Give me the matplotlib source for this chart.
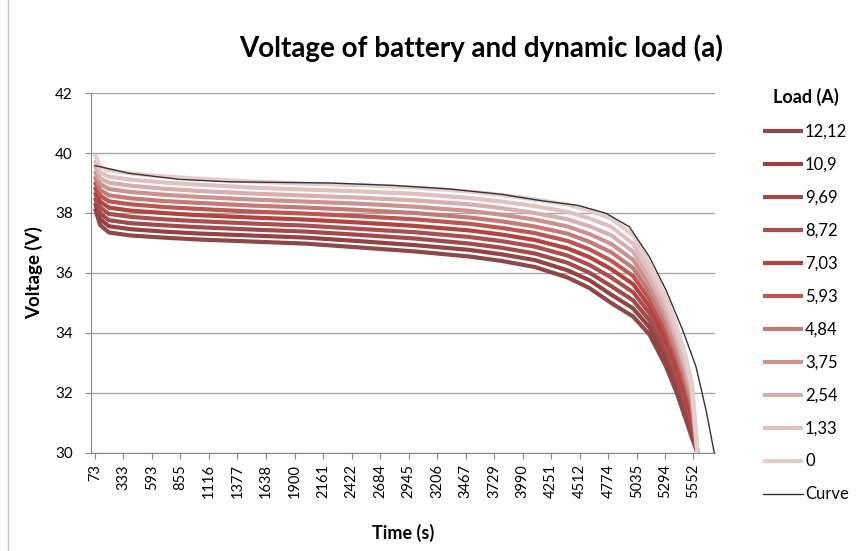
import numpy as np
import matplotlib
matplotlib.use("Agg")
import matplotlib.pyplot as plt
from matplotlib.lines import Line2D

plt.rcParams['font.family'] = ['Lato', 'DejaVu Sans']

# time grid of the load curves (s)
t_load = [73, 120, 200, 400, 700, 1000, 1500, 2000, 2500, 3000, 3500, 3800,
          4100, 4400, 4600, 4800, 5000, 5150, 5300, 5400, 5480, 5540, 5590]

# voltage of battery for each load (V)
v_0 = [39.95, 39.55, 39.42, 39.32, 39.22, 39.15, 39.05, 38.98, 38.93, 38.85, 38.72, 38.60,
       38.45, 38.28, 38.08, 37.82, 37.25, 36.30, 35.20, 34.20, 33.25, 32.30, 30.0]
v_133 = [39.77, 39.36, 39.21, 39.11, 39.02, 38.95, 38.85, 38.78, 38.72, 38.64, 38.50, 38.38,
         38.23, 38.04, 37.82, 37.54, 36.98, 36.07, 34.97, 33.98, 33.04, 32.12, 30.0]
v_254 = [39.59, 39.16, 39.01, 38.91, 38.81, 38.74, 38.65, 38.58, 38.51, 38.42, 38.29, 38.16,
         38.00, 37.79, 37.56, 37.26, 36.71, 35.83, 34.74, 33.76, 32.83, 31.94, 30.0]
v_375 = [39.41, 38.97, 38.80, 38.70, 38.61, 38.54, 38.45, 38.38, 38.31, 38.21, 38.07, 37.94,
         37.78, 37.55, 37.30, 36.97, 36.44, 35.60, 34.51, 33.54, 32.62, 31.76, 30.0]
v_484 = [39.23, 38.77, 38.59, 38.49, 38.40, 38.34, 38.25, 38.18, 38.10, 38.00, 37.85, 37.72,
         37.55, 37.31, 37.04, 36.69, 36.17, 35.36, 34.28, 33.32, 32.41, 31.58, 30.0]
v_593 = [39.05, 38.58, 38.39, 38.29, 38.20, 38.14, 38.05, 37.98, 37.89, 37.79, 37.64, 37.50,
         37.33, 37.07, 36.79, 36.41, 35.90, 35.13, 34.05, 33.10, 32.20, 31.40, 30.0]
v_703 = [38.87, 38.38, 38.18, 38.08, 38.00, 37.93, 37.85, 37.78, 37.68, 37.57, 37.42, 37.28,
         37.10, 36.82, 36.53, 36.13, 35.63, 34.89, 33.82, 32.88, 31.99, 31.22, 30.0]
v_872 = [38.69, 38.19, 37.97, 37.87, 37.79, 37.73, 37.65, 37.58, 37.47, 37.36, 37.20, 37.06,
         36.88, 36.58, 36.27, 35.85, 35.36, 34.66, 33.59, 32.66, 31.78, 31.04, 30.0]
v_969 = [38.51, 37.99, 37.76, 37.66, 37.59, 37.53, 37.45, 37.38, 37.27, 37.15, 36.98, 36.84,
         36.65, 36.34, 36.01, 35.56, 35.09, 34.42, 33.36, 32.44, 31.57, 30.86, 30.0]
v_109 = [38.33, 37.80, 37.56, 37.46, 37.38, 37.32, 37.25, 37.18, 37.06, 36.93, 36.77, 36.62,
         36.43, 36.09, 35.76, 35.28, 34.82, 34.19, 33.13, 32.22, 31.36, 30.68, 30.0]
v_1212 = [38.15, 37.60, 37.35, 37.25, 37.18, 37.12, 37.05, 36.98, 36.85, 36.72, 36.55, 36.40,
          36.20, 35.85, 35.50, 35.00, 34.55, 33.95, 32.90, 32.00, 31.15, 30.50, 30.0]

# discharge curve
t_curve = [73, 390, 850, 1300, 2220, 2800, 3320, 3800, 4143, 4500, 4753, 4966,
           5149, 5302, 5454, 5576, 5668, 5744]
v_curve = [39.58, 39.32, 39.12, 39.04, 39.00, 38.92, 38.80, 38.62, 38.42, 38.25, 37.99, 37.54,
           36.54, 35.43, 34.10, 32.88, 31.43, 30.0]

loads = ['12,12', '10,9', '9,69', '8,72', '7,03', '5,93', '4,84', '3,75', '2,54', '1,33', '0']
series = [v_1212, v_109, v_969, v_872, v_703, v_593, v_484, v_375, v_254, v_133, v_0]
colors = ['#8e4848', '#934343', '#a04a4a', '#a94f4f', '#b3433f', '#bc5653',
          '#c57a78', '#cc9291', '#d8afaf', '#e0c1c1', '#e7cccc']

tick_times = [73, 333, 593, 855, 1116, 1377, 1638, 1900, 2161, 2422, 2684, 2945,
              3206, 3467, 3729, 3990, 4251, 4512, 4774, 5035, 5294, 5552]

fig = plt.figure(figsize=(8.68, 5.51), dpi=100)
ax = fig.add_axes([0.1048, 0.1779, 0.7189, 0.6533])

for lab, v, c in zip(loads, series, colors):
    ax.plot(t_load, v, color=c, lw=3.0, label=lab, solid_capstyle='butt')
ax.plot(t_curve, v_curve, color='#333333', lw=1.0, label='Curve')

ax.set_xlim(36, 5750)
ax.set_ylim(30, 42)
ax.set_yticks(np.arange(30, 43, 2))
ax.set_xticks(tick_times)
ax.set_xticklabels([str(t) for t in tick_times], rotation=90, fontsize=10.5)
ax.tick_params(axis='y', labelsize=11, length=4, color='#888888', pad=9)
ax.tick_params(axis='x', length=4, color='#888888', pad=4)
ax.yaxis.grid(True, color='#a6a6a6', lw=1.0)
ax.set_axisbelow(True)
for s in ['top', 'right']:
    ax.spines[s].set_visible(False)
for s in ['left', 'bottom']:
    ax.spines[s].set_color('#888888')

ax.set_ylabel('Voltage (V)', fontsize=13.5, fontweight='bold', labelpad=9)
ax.set_xlabel('Time (s)', fontsize=13, fontweight='bold', labelpad=18)
fig.text(0.554, 0.913, 'Voltage of battery and dynamic load (a)', ha='center', va='center',
         fontsize=20, fontweight='bold')

leg = fig.legend(loc='upper left', bbox_to_anchor=(0.866, 0.861), frameon=False,
                 fontsize=12, handlelength=2.4, handletextpad=0.1, labelspacing=1.02,
                 borderpad=0.2, title='Load (A)',
                 title_fontproperties={'weight': 'bold', 'size': 13})

# chart area border on the left
fig.add_artist(Line2D([0.0095, 0.0095], [0, 1], color='#c8c8c8', lw=1.0))

fig.savefig('out.png', dpi=100)
